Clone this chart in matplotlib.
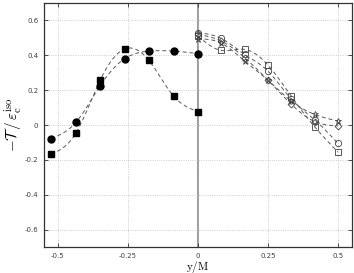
import numpy as np
import matplotlib
matplotlib.use('Agg')
from matplotlib import pyplot as plt

matplotlib.rcParams['mathtext.fontset'] = 'cm'

# left half: filled markers
x_left = [-0.524, -0.436, -0.349, -0.262, -0.175, -0.087, 0.0]
circ_left = [-0.078, 0.015, 0.226, 0.380, 0.424, 0.424, 0.410]
sq_left = [-0.168, -0.047, 0.258, 0.436, 0.371, 0.166, 0.077]

# right half: open markers
x_right = [0.0, 0.083, 0.167, 0.25, 0.333, 0.417, 0.5]
circ_right = [0.530, 0.497, 0.405, 0.310, 0.150, 0.030, -0.105]
sq_right = [0.510, 0.428, 0.434, 0.344, 0.166, -0.010, -0.155]
dia_right = [0.520, 0.482, 0.386, 0.258, 0.120, 0.020, -0.005]
star_right = [0.495, 0.470, 0.367, 0.258, 0.138, 0.061, 0.023]

xticks = [-0.5, -0.25, 0, 0.25, 0.5]
xticklabels = ['-0.5', '-0.25', '0', '0.25', '0.5']
yticks = [-0.6, -0.4, -0.2, 0, 0.2, 0.4, 0.6]


def spline(x, y, n=200):
    # natural cubic spline, only for the smooth dashed guide line
    x = np.asarray(x, float)
    y = np.asarray(y, float)
    h = np.diff(x)
    m = len(x)
    A = np.zeros((m, m))
    b = np.zeros(m)
    A[0, 0] = A[-1, -1] = 1
    for i in range(1, m - 1):
        A[i, i - 1] = h[i - 1]
        A[i, i] = 2 * (h[i - 1] + h[i])
        A[i, i + 1] = h[i]
        b[i] = 6 * ((y[i + 1] - y[i]) / h[i] - (y[i] - y[i - 1]) / h[i - 1])
    M = np.linalg.solve(A, b)
    xs = np.linspace(x[0], x[-1], n)
    k = np.clip(np.searchsorted(x, xs) - 1, 0, m - 2)
    t = xs - x[k]
    hk = h[k]
    a = (M[k + 1] - M[k]) / (6 * hk)
    c = (y[k + 1] - y[k]) / hk - hk * (2 * M[k] + M[k + 1]) / 6
    ys = y[k] + c * t + M[k] / 2 * t ** 2 + a * t ** 3
    return xs, ys


fig = plt.figure(figsize=(3.54, 2.73), dpi=100)
ax = fig.add_axes([0.124, 0.095, 0.870, 0.894])

ax.axvline(0, color='0.6', lw=1.4, zorder=1)

line_kw = dict(color='0.35', lw=0.7, ls=(0, (4, 3)), zorder=2)
for yy in [circ_left, sq_left]:
    ax.plot(*spline(x_left, yy), **line_kw)
for yy in [circ_right, sq_right, dia_right, star_right]:
    ax.plot(*spline(x_right, yy), **line_kw)

ax.plot(x_left, circ_left, 'o', color='k', ms=5, ls='none', zorder=3)
ax.plot(x_left, sq_left, 's', color='k', ms=4, ls='none', zorder=3)

open_kw = dict(mfc='none', mec='0.25', mew=0.6, ls='none', zorder=3)
ax.plot(x_right, circ_right, 'o', ms=4.5, **open_kw)
ax.plot(x_right, sq_right, 's', ms=4, **open_kw)
ax.plot(x_right, dia_right, 'D', ms=3.5, **open_kw)
ax.plot(x_right, star_right, '*', ms=5, **open_kw)

ax.set_xlim(-0.55, 0.55)
ax.set_ylim(-0.7, 0.7)
ax.set_xticks(xticks)
ax.set_xticklabels(xticklabels)
ax.set_yticks(yticks)
ax.set_yticklabels(['%g' % v for v in yticks])
ax.grid(True, ls=':', color='0.75', lw=0.6)
ax.tick_params(direction='in', length=3, width=0.6, labelsize=5, pad=4,
               top=True, right=True, colors='0.2', labelcolor='0.25')
for s in ax.spines.values():
    s.set_color('0.2')
    s.set_linewidth(0.9)

ax.set_xlabel(r'$\mathrm{y/M}$', fontsize=8)
ax.set_ylabel(r'$-\mathcal{T}\,/\,\varepsilon_{\rm c}^{\rm iso}$', fontsize=11)
ax.xaxis.set_label_coords(0.5, -0.047)
ax.yaxis.set_label_coords(-0.062, 0.5)

plt.savefig('out.png', dpi=100)
